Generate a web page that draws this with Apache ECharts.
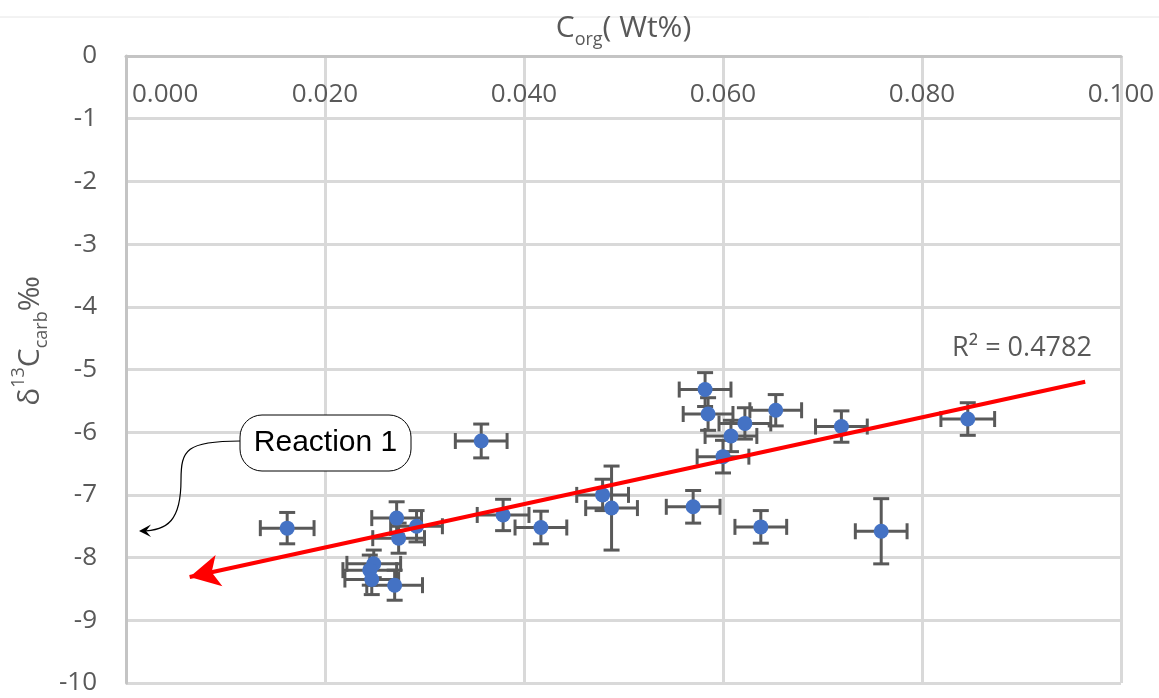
<!DOCTYPE html>
<html>
<head>
<meta charset="utf-8">
<script src="https://cdn.jsdelivr.net/npm/echarts@6/dist/echarts.min.js"></script>
<style>
  html, body { margin: 0; padding: 0; background: #fff; }
  #chart { width: 1159px; height: 698px; }
</style>
</head>
<body>
<div id="chart"></div>
<script>
// values
const corg = [0.0162, 0.0272, 0.0292, 0.0274, 0.0249, 0.0245, 0.0247, 0.0270,
              0.0357, 0.0379, 0.0417, 0.0479, 0.0488, 0.0570, 0.0638, 0.0582,
              0.0585, 0.0622, 0.0608, 0.0600, 0.0653, 0.0719, 0.0846, 0.0759];
const d13c = [-7.53, -7.37, -7.50, -7.69, -8.10, -8.20, -8.35, -8.44,
              -6.14, -7.32, -7.52, -7.00, -7.21, -7.19, -7.51, -5.32,
              -5.71, -5.86, -6.06, -6.39, -5.65, -5.91, -5.79, -7.58];
const corgErr = [0.0027, 0.0025, 0.0026, 0.0026, 0.0027, 0.0027, 0.0027, 0.0028,
                 0.0026, 0.0026, 0.0026, 0.0026, 0.0026, 0.0027, 0.0026, 0.0026,
                 0.0025, 0.0026, 0.0026, 0.0026, 0.0026, 0.0026, 0.0027, 0.0026];
const d13cErr = [0.25, 0.26, 0.25, 0.24, 0.22, 0.24, 0.24, 0.24,
                 0.27, 0.25, 0.26, 0.25, 0.67, 0.26, 0.26, 0.27,
                 0.26, 0.25, 0.25, 0.26, 0.25, 0.25, 0.26, 0.52];
// linear trend line, arrow at the low end
const trendX = [0.0064, 0.0964];
const trendY = [-8.31, -5.195];
const r2Text = 'R² = 0.4782';

const points = corg.map((x, i) => [x, d13c[i]]);
const errData = corg.map((x, i) => [x, d13c[i], corgErr[i], d13cErr[i]]);

const chart = echarts.init(document.getElementById('chart'));
const font = "'Open Sans', sans-serif";
const grey = '#595959';

const renderErr = (params, api) => {
    const x = api.value(0), y = api.value(1), ex = api.value(2), ey = api.value(3);
    const l = api.coord([x - ex, y]), r = api.coord([x + ex, y]);
    const t = api.coord([x, y + ey]), b = api.coord([x, y - ey]);
    const cap = 8;
    const st = { stroke: grey, lineWidth: 3 };
    const line = (x1, y1, x2, y2) => ({ type: 'line', shape: { x1, y1, x2, y2 }, style: st });
    return {
        type: 'group',
        children: [
            line(l[0], l[1], r[0], r[1]),
            line(l[0], l[1] - cap, l[0], l[1] + cap),
            line(r[0], r[1] - cap, r[0], r[1] + cap),
            line(t[0], t[1], b[0], b[1]),
            line(t[0] - cap, t[1], t[0] + cap, t[1]),
            line(b[0] - cap, b[1], b[0] + cap, b[1])
        ]
    };
};

const titleRich = {
    b: { fontSize: 30, fontFamily: font, color: grey, lineHeight: 30 },
    sub: { fontSize: 18, fontFamily: font, color: grey, lineHeight: 18, padding: [24, 0, 0, 0] },
    sup: { fontSize: 18, fontFamily: font, color: grey, lineHeight: 18, padding: [0, 0, 22, 0] }
};
// graphic text uses fill instead of color
const graphicRich = {};
Object.keys(titleRich).forEach(k => {
    graphicRich[k] = Object.assign({}, titleRich[k], { fill: grey });
    delete graphicRich[k].color;
});

const option = {
    animation: false,
    grid: { left: 126, top: 56, right: 38, bottom: 15, containLabel: false, outerBoundsMode: 'none' },
    xAxis: {
        type: 'value',
        position: 'top',
        min: 0, max: 0.1, interval: 0.02,
        name: '{b|C}{sub|org}{b|( Wt%)}',
        nameLocation: 'middle',
        nameGap: 13,
        nameTextStyle: { rich: titleRich },
        axisLine: { show: true, onZero: false, lineStyle: { color: '#c4c4c4', width: 3 } },
        axisTick: { show: false },
        axisLabel: {
            inside: true, margin: 26,
            color: grey, fontSize: 26, fontFamily: font,
            alignMinLabel: 'left',
            formatter: (v, i) => i === 0 ? '{f|' + v.toFixed(3) + '}' : v.toFixed(3),
            rich: { f: { fontSize: 26, fontFamily: font, color: grey, padding: [0, 0, 0, 6] } }
        },
        splitLine: { show: true, lineStyle: { color: '#d9d9d9', width: 3 } }
    },
    yAxis: {
        type: 'value',
        min: -10, max: 0, interval: 1,
        axisLine: { show: true, onZero: false, lineStyle: { color: '#c4c4c4', width: 3 } },
        axisTick: { show: false },
        axisLabel: { margin: 29, color: grey, fontSize: 26, fontFamily: font },
        splitLine: { show: true, lineStyle: { color: '#d9d9d9', width: 3 } }
    },
    series: [
        {
            type: 'custom',
            renderItem: renderErr,
            data: errData,
            encode: { x: 0, y: 1 },
            z: 2,
            silent: true
        },
        {
            type: 'scatter',
            data: points,
            symbol: 'circle',
            symbolSize: 15,
            itemStyle: { color: '#4472c4', opacity: 1 },
            z: 4,
            markLine: {
                silent: true,
                symbol: ['arrow', 'none'],
                symbolSize: [24, 30],
                label: { show: false },
                lineStyle: { color: '#ff0000', width: 4, type: 'solid', opacity: 1 },
                data: [[{ coord: [trendX[0], trendY[0]] }, { coord: [trendX[1], trendY[1]] }]]
            }
        }
    ],
    graphic: [
        { type: 'line', shape: { x1: 0, y1: 17, x2: 1159, y2: 17 }, style: { stroke: '#e6e6e6', lineWidth: 1 } },
        {
            type: 'text', x: 30, y: 341, rotation: Math.PI / 2,
            style: {
                text: '{b|δ}{sup|13}{b|C}{sub|carb}{b|‰}',
                rich: graphicRich, fill: grey, align: 'center', verticalAlign: 'middle'
            }
        },
        {
            type: 'text', x: 1022, y: 348,
            style: { text: r2Text, font: "27px 'Open Sans', sans-serif", fill: grey, align: 'center', verticalAlign: 'middle' }
        },
        {
            type: 'rect', shape: { x: 240, y: 415, width: 171, height: 56, r: 22 },
            style: { fill: '#fff', stroke: '#000', lineWidth: 1 }, z: 10
        },
        {
            type: 'text', x: 325.5, y: 443, z: 11,
            style: { text: 'Reaction 1', font: "30px 'Liberation Sans', Arial, sans-serif", fill: '#000', align: 'center', verticalAlign: 'middle' }
        },
        {
            type: 'bezierCurve', z: 10,
            shape: { x1: 240, y1: 441, cpx1: 186, cpy1: 441, cpx2: 181, cpy2: 450, x2: 181, y2: 480 },
            style: { stroke: '#000', lineWidth: 1.2, fill: null }
        },
        {
            type: 'bezierCurve', z: 10,
            shape: { x1: 181, y1: 480, cpx1: 181, cpy1: 520, cpx2: 168, cpy2: 531, x2: 141, y2: 531 },
            style: { stroke: '#000', lineWidth: 1.2, fill: null }
        },
        {
            type: 'polygon', z: 10,
            shape: { points: [[151, 524.5], [139, 531], [151, 537], [146, 531]] },
            style: { fill: '#000' }
        }
    ]
};

chart.setOption(option);
</script>
</body>
</html>
